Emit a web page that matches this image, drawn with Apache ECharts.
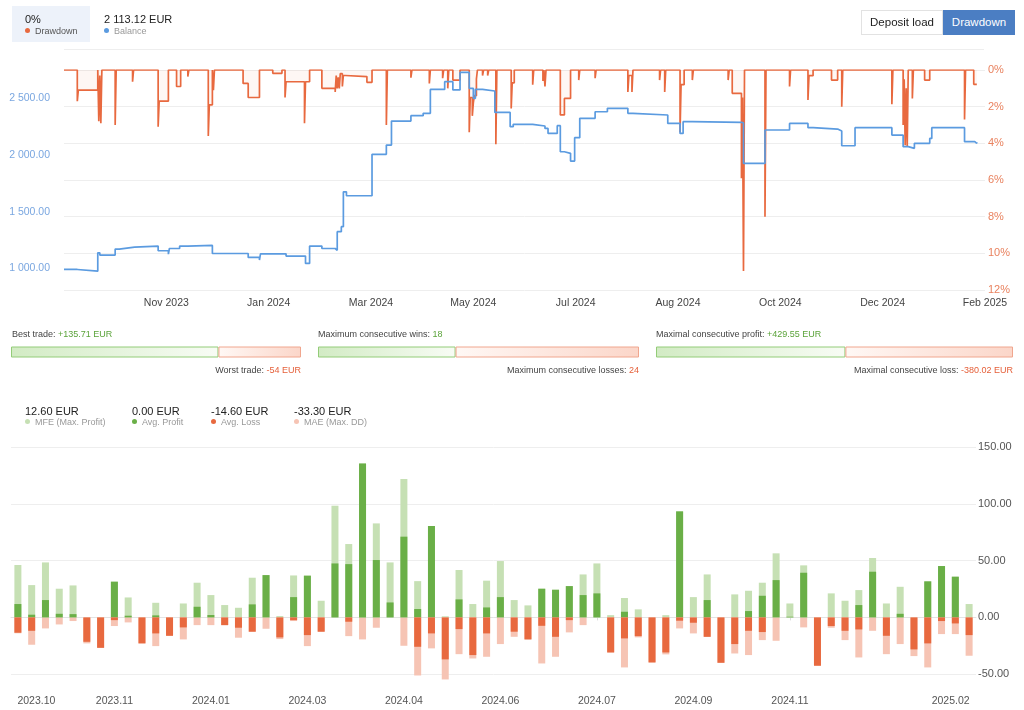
<!DOCTYPE html>
<html><head><meta charset="utf-8">
<script src="https://cdn.jsdelivr.net/npm/echarts@6/dist/echarts.min.js"></script>
<style>
body{margin:0;background:#fff;font-family:"Liberation Sans",Arial,sans-serif;}
#c{position:absolute;left:0;top:0;width:1024px;height:710px;}
.t{position:absolute;white-space:nowrap;z-index:2;}
.dot{display:inline-block;width:5px;height:5px;border-radius:50%;margin-right:5px;vertical-align:1px;}
.small{font-size:9px;line-height:12px;}
.big{font-size:11px;line-height:14px;color:#222;}
</style></head><body>
<div id="c"></div>
<div class="t" style="left:12px;top:6px;width:78px;height:36px;background:#edf2fa;z-index:1"></div>
<div class="t big" style="left:25px;top:12px">0%</div>
<div class="t small" style="left:25px;top:25px;color:#555"><span class="dot" style="background:#e8693f"></span>Drawdown</div>
<div class="t big" style="left:104px;top:12px">2 113.12 EUR</div>
<div class="t small" style="left:104px;top:25px;color:#999"><span class="dot" style="background:#5b9be0"></span>Balance</div>
<div class="t" style="left:861px;top:10px;width:80px;height:23px;border:1px solid #e2e2e2;font-size:11.5px;line-height:23px;text-align:center;color:#222">Deposit load</div>
<div class="t" style="left:943px;top:10px;width:72px;height:25px;background:#4b7ec3;font-size:11.5px;line-height:25px;text-align:center;color:#fff">Drawdown</div>
<div class="t" style="left:64px;top:49px;width:920px;height:1px;background:#eee"></div>

<div class="t small" style="left:12px;top:328px;color:#444">Best trade: <span style="color:#5ba33a">+135.71 EUR</span></div>
<div class="t small" style="right:723px;top:364px;color:#444">Worst trade: <span style="color:#e5603a">-54 EUR</span></div>
<div class="t small" style="left:318px;top:328px;color:#444">Maximum consecutive wins: <span style="color:#5ba33a">18</span></div>
<div class="t small" style="right:385px;top:364px;color:#444">Maximum consecutive losses: <span style="color:#e5603a">24</span></div>
<div class="t small" style="left:656px;top:328px;color:#444">Maximal consecutive profit: <span style="color:#5ba33a">+429.55 EUR</span></div>
<div class="t small" style="right:11px;top:364px;color:#444">Maximal consecutive loss: <span style="color:#e5603a">-380.02 EUR</span></div>

<div class="t big" style="left:25px;top:404px">12.60 EUR</div>
<div class="t small" style="left:25px;top:416px;color:#999"><span class="dot" style="background:#c6e0b4"></span>MFE (Max. Profit)</div>
<div class="t big" style="left:132px;top:404px">0.00 EUR</div>
<div class="t small" style="left:132px;top:416px;color:#999"><span class="dot" style="background:#6aaf47"></span>Avg. Profit</div>
<div class="t big" style="left:211px;top:404px">-14.60 EUR</div>
<div class="t small" style="left:211px;top:416px;color:#999"><span class="dot" style="background:#e8693f"></span>Avg. Loss</div>
<div class="t big" style="left:294px;top:404px">-33.30 EUR</div>
<div class="t small" style="left:294px;top:416px;color:#999"><span class="dot" style="background:#f6c4b4"></span>MAE (Max. DD)</div>

<script>
// ---- Top chart (balance / drawdown), x = trade progress index 0..900
const topAxisLabels = ['', 'Nov 2023', 'Jan 2024', 'Mar 2024', 'May 2024', 'Jul 2024', 'Aug 2024', 'Oct 2024', 'Dec 2024', 'Feb 2025'];
const balanceTicks = [1000, 1500, 2000, 2500];
const balanceX = [0,13,33,35,50,54,69,92,102,103,113,121,145,180,191,192,217,236,240,252,265,267,271,273,276,301,315,320,339,351,358,372,380,387,396,400,402,409,421,436,439,458,470,473,482,485,489,495,499,504,519,531,551,556,590,602,605,614,662,664,685,709,727,732,756,760,773,809,820,825,831,846,848,880,890,892];
const balanceY = [991,976,1138,1118,1171,1188,1197,1156,1126,1176,1197,1203,1132,1097,1074,1129,1109,1044,1197,1176,1160,1324,1368,1676,1641,2006,2088,2300,2347,2368,2579,2647,2574,2729,2588,2500,2579,2565,2376,2250,2271,2256,2235,2191,2259,2029,2015,1947,2153,2324,2382,2412,2368,2353,2279,2191,2294,2288,2285,1926,2221,2279,2241,2229,2212,2082,2241,2176,2074,2059,2103,2147,2241,2118,2103,2113];
const drawdownX = [0,13,14,33,34,35,36,37,50,51,67,68,92,93,102,110,114,121,122,141,142,145,146,147,175,180,191,204,213,216,217,235,236,240,252,265,266,267,268,269,270,272,273,275,296,301,315,316,339,340,357,358,370,371,375,376,380,387,396,397,399,400,401,403,404,409,410,414,415,422,423,437,438,440,458,459,468,469,470,471,485,489,495,503,504,519,520,551,552,555,556,582,583,587,588,602,603,606,614,615,649,650,653,662,663,664,665,685,686,709,710,727,728,732,750,756,760,761,809,810,820,821,822,823,824,825,829,830,841,846,880,881,889,892];
const drawdownY = [0,1.7,1.1,0,2.8,0.3,2.9,0,3.0,0,0.64,0,3.1,1.7,0,0.9,0,0.36,0,3.6,1.9,0,1.1,0,0.73,1.5,0,0.18,0,1.5,0.64,2.9,0.64,0,1.0,1.2,0.3,1.0,0.4,1.0,0.2,0.9,0.3,0.36,0.67,0,3.0,0,0.42,0,0.73,0,0.45,0,1.0,0,0.55,0,3.4,1.5,2.5,1.8,1.4,0.5,0,0.3,0,0.3,0,4.05,0,2.1,0.7,0,0.8,0,0.6,0,0.9,0,2.45,1.55,0,0.55,0,0.45,0,1.2,0.3,1.2,0,0.55,0,1.2,0,3.4,0.8,0,0.55,0,0.55,0,1.27,5.9,1.5,10.96,0,8.0,0,0.9,0,1.64,0.31,0,0.55,0,2.0,0,1.87,0,3.0,0.5,4.1,1.0,4.2,0,1.55,0,0.55,0,2.7,0,0.78,0.78];

// ---- Bottom chart (weekly MFE / profit / loss / MAE)
const bottomLabelIdx = [0, 7, 14, 21, 28, 35, 42, 49, 56, 69];
const bottomLabelText = ['2023.10', '2023.11', '2024.01', '2024.03', '2024.04', '2024.06', '2024.07', '2024.09', '2024.11', '2025.02'];
const bottomTicks = [-50, 0, 50, 100, 150];
const mfeValues = [46.2,28.5,48.5,25.3,28.2,0,0,31.5,17.6,0, 12.9,0,12.3,30.6,19.7,10.9,8.5,35,37.3,1.2, 37,36.8,14.7,98.5,64.7,135.7,82.9,48.5,122,32, 80.6,1,41.8,11.8,32.4,49.7,15.3,10.6,25.3,24.4, 27.6,37.9,47.6,2,17.1,7.1,0,2,93.5,17.9, 37.9,0,20.3,23.5,30.6,56.5,12.3,45.9,0,21.2, 14.7,24.1,52.4,12.3,27,0,31.8,45.3,35.9,11.8];
const profitValues = [11.8,2.4,15.3,3.2,2.9,0,0,31.5,1.5,0, 1.8,0,0,9.4,2.1,0,0,11.5,37.3,0, 17.9,36.8,0,47.6,47,135.7,50.6,13.2,71.2,7.4, 80.6,0,15.9,0,8.8,17.9,0,0,25.3,24.4, 27.6,19.7,21.2,0,5,0,0,0,93.5,0, 15.3,0,0,5.6,19.1,32.9,0.6,39.4,0,0, 0,10.9,40.3,0,3.2,0,31.8,45.3,35.9,0];
const lossValues = [-13.5,-11.8,0,0,0,-21.5,-26.8,-2.4,0,-22.9, -14.1,-16.2,-8.8,0,0,-6.8,-9.1,-12.6,0,-17.6, -2.4,-15.6,-12.6,0,-3.8,0,0,0,0,-25.9, -14.1,-37,-10.3,-33.2,-14.1,0,-12.6,-19.4,-7.4,-17.1, -2.4,0,0,-30.9,-18.5,-16.5,-39.7,-30.9,-2.9,-4.7, -17.1,-40,-23.5,-11.8,-12.9,0,0,0,-42.6,-7.6, -11.8,-10.6,0,-16.2,0,-28.2,-22.9,-3.2,-5.3,-15.6];
const maeValues = [-14,-24.1,-9.7,-6.2,-3.2,-22.9,-26.8,-7.6,-4.4,-22.9, -25.3,-16.2,-19.4,-6.8,-6.8,-6.8,-17.9,-12.6,-10,-19.1, -3.2,-25.3,-12.6,0,-16.5,-19.4,-9.1,0,-25,-51.2, -27.3,-54.7,-32.4,-36.2,-34.7,-23.5,-17.1,-19.4,-40.6,-34.7, -13.2,-6.8,0,-30.9,-44.1,-17.6,-39.7,-32.6,-9.7,-14.1, -17.1,-40,-31.8,-33.2,-20,-20.6,0,-8.8,-42.6,-9.1, -20,-35.3,-11.8,-32.4,-23.5,-34.1,-44.1,-14.7,-14.7,-33.8];

// ---- Stat bars (good vs bad)
const statGood = [135.71, 18, 429.55];
const statBad = [54, 24, 380.02];

const fmtSpace = v => v.toFixed(2).replace(/\B(?=(\d{3})+(?!\d))/g, ' ');
const balanceData = balanceX.map((x, i) => [x, balanceY[i]]);
const ddData = drawdownX.map((x, i) => [x, drawdownY[i]]);
const weeks = mfeValues.map((_, i) => String(i));
const labelAt = {};
bottomLabelIdx.forEach((k, i) => { labelAt[k] = bottomLabelText[i]; });
const lastIdx = weeks.length - 1;

const G = echarts.graphic;
const greenGrad = new G.LinearGradient(0, 0, 1, 0, [{offset: 0, color: '#d2ebc4'}, {offset: 1, color: '#f8fcf5'}]);
const redGrad = new G.LinearGradient(0, 0, 1, 0, [{offset: 0, color: '#fff8f5'}, {offset: 1, color: '#fbd6c9'}]);

const statGrids = [[11, 290], [318, 321], [656, 357]];

const grid = [
  {left: 64, top: 70, width: 921, height: 220},
  {left: 11, top: 447.3, width: 965, height: 242.7}
];
const xAxis = [
  {gridIndex: 0, type: 'value', min: 0, max: 900, interval: 100,
   axisLine: {show: false}, axisTick: {show: false}, splitLine: {show: false},
   axisLabel: {color: '#444', fontSize: 10.5, margin: 8, formatter: v => topAxisLabels[Math.round(v / 100)] || ''}},
  {gridIndex: 1, type: 'category', data: weeks, boundaryGap: true,
   axisLine: {show: true, lineStyle: {color: '#e3e3e3'}},
   axisTick: {show: true, alignWithLabel: true, length: 3, lineStyle: {color: '#ddd'}, interval: (i) => labelAt[i] !== undefined},
   axisLabel: {color: '#555', fontSize: 10.5, margin: 6, interval: (i) => labelAt[i] !== undefined,
     formatter: (v, i) => {
       const t = labelAt[i] || '';
       if (i === 0) return '{l|' + t + '}';
       if (i === lastIdx) return '{r|' + t + '}';
       return t;
     },
     rich: {l: {padding: [0, 0, 0, 37], fontSize: 10.5, color: '#555'}, r: {padding: [0, 37, 0, 0], fontSize: 10.5, color: '#555'}}}}
];
const yAxis = [
  {gridIndex: 0, type: 'value', min: 810, max: 2750, position: 'left',
   axisLine: {show: false}, axisTick: {show: false}, splitLine: {show: false},
   axisLabel: {color: '#7aa7e0', fontSize: 10.5, margin: 14, customValues: balanceTicks, formatter: v => fmtSpace(v)}},
  {gridIndex: 0, type: 'value', min: 0, max: 12, interval: 2, inverse: true, position: 'right',
   axisLine: {show: false}, axisTick: {show: false},
   splitLine: {show: true, lineStyle: {color: '#eeeeee'}},
   axisLabel: {color: '#e9825f', fontSize: 11, margin: 3, formatter: '{value}%'}},
  {gridIndex: 1, type: 'value', min: -64, max: 150, position: 'right',
   axisLine: {show: false}, axisTick: {show: false, customValues: bottomTicks},
   splitLine: {show: true, lineStyle: {color: '#eeeeee'}},
   axisLabel: {color: '#555', fontSize: 11, margin: 2, customValues: bottomTicks, formatter: v => v.toFixed(2)}}
];
const series = [
  {type: 'line', xAxisIndex: 0, yAxisIndex: 0, data: balanceData, step: 'end', showSymbol: false,
   lineStyle: {color: '#5b9be0', width: 1.7}, z: 3},
  {type: 'line', xAxisIndex: 0, yAxisIndex: 1, data: ddData, step: 'end', showSymbol: false,
   lineStyle: {color: '#e8693f', width: 1.7}, areaStyle: {color: 'rgba(232,105,63,0.08)'}, z: 2},
  {type: 'bar', xAxisIndex: 1, yAxisIndex: 2, data: mfeValues, barWidth: 7, barGap: '-100%', itemStyle: {color: '#c6e0b4'}},
  {type: 'bar', xAxisIndex: 1, yAxisIndex: 2, data: maeValues, barWidth: 7, barGap: '-100%', itemStyle: {color: '#f6c4b4'}},
  {type: 'bar', xAxisIndex: 1, yAxisIndex: 2, data: profitValues, barWidth: 7, barGap: '-100%', itemStyle: {color: '#6aaf47'}},
  {type: 'bar', xAxisIndex: 1, yAxisIndex: 2, data: lossValues, barWidth: 7, barGap: '-100%', itemStyle: {color: '#e8693f'}}
];
statGrids.forEach(([left, width], k) => {
  const gi = grid.length;
  grid.push({left: left, top: 346, width: width, height: 12});
  const xi = xAxis.length, yi = yAxis.length;
  xAxis.push({gridIndex: gi, type: 'value', min: 0, max: statGood[k] + statBad[k], show: false});
  yAxis.push({gridIndex: gi, type: 'category', data: ['s'], show: false});
  series.push({type: 'bar', xAxisIndex: xi, yAxisIndex: yi, stack: 'st' + k, data: [statGood[k]], barWidth: 11,
    itemStyle: {color: greenGrad, borderColor: '#93cc78', borderWidth: 1}});
  series.push({type: 'bar', xAxisIndex: xi, yAxisIndex: yi, stack: 'st' + k, data: [statBad[k]], barWidth: 11,
    itemStyle: {color: redGrad, borderColor: '#f0a68e', borderWidth: 1}});
});

const chart = echarts.init(document.getElementById('c'));
chart.setOption({
  animation: false,
  textStyle: {fontFamily: '"Liberation Sans", Arial, sans-serif'},
  grid: grid, xAxis: xAxis, yAxis: yAxis, series: series
});
</script>
</body></html>
